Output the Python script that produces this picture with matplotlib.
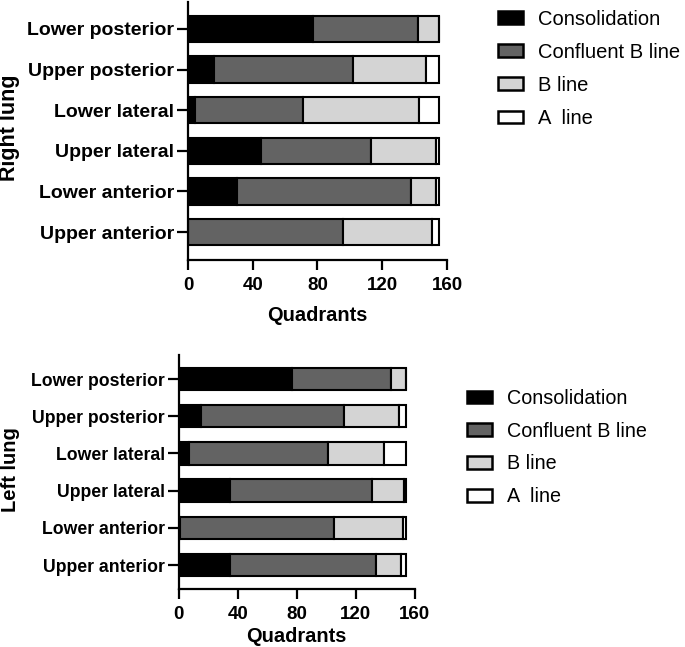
import numpy as np
import matplotlib
matplotlib.use("Agg")
import matplotlib.pyplot as plt
from matplotlib.patches import Patch

plt.rcParams['font.family'] = ['Liberation Sans', 'DejaVu Sans']

# regions, bottom to top
regions = ["Upper anterior", "Lower anterior", "Upper lateral",
           "Lower lateral", "Upper posterior", "Lower posterior"]
series = ["Consolidation", "Confluent B line", "B line", "A  line"]
colors = ["#000000", "#636363", "#d4d4d4", "#ffffff"]

# right lung counts per region (same order as regions)
right_consol = [0, 30, 45, 4, 16, 77]
right_confl = [96, 108, 68, 67, 86, 65]
right_bline = [55, 15, 40, 72, 45, 13]
right_aline = [4, 2, 2, 12, 8, 0]

# left lung counts
left_consol = [35, 1, 35, 7, 15, 77]
left_confl = [99, 104, 96, 94, 97, 67]
left_bline = [17, 47, 22, 38, 37, 10]
left_aline = [3, 2, 1, 15, 5, 0]

xticks = [0, 40, 80, 120, 160]

fig = plt.figure(figsize=(6.85, 6.47), dpi=100)
ax1 = fig.add_axes([0.2745, 0.598, 0.378, 0.399])
ax2 = fig.add_axes([0.261, 0.0896, 0.3445, 0.3617])


def draw(ax, data, height, fs, lpad):
    y = np.arange(len(regions))
    left = np.zeros(len(regions))
    for vals, c, name in zip(data, colors, series):
        ax.barh(y, vals, left=left, height=height, color=c,
                edgecolor="black", linewidth=1.5, label=name)
        left = left + np.array(vals)
    ax.set_yticks(y)
    ax.set_yticklabels(regions, fontsize=fs, fontweight="bold")
    ax.set_xlim(0, 160)
    ax.set_xticks(xticks)
    ax.set_xticklabels([str(t) for t in xticks], fontsize=13.5, fontweight="bold")
    ax.set_xlabel("Quadrants", fontsize=14.4, fontweight="bold", labelpad=lpad)
    ax.spines["top"].set_visible(False)
    ax.spines["right"].set_visible(False)
    ax.spines["left"].set_linewidth(1.6)
    ax.spines["bottom"].set_linewidth(1.6)
    ax.tick_params(axis="x", width=1.6, length=7, pad=5)
    ax.tick_params(axis="y", width=1.6, length=8, pad=2)


draw(ax1, [right_consol, right_confl, right_bline, right_aline], 0.65, 14, 9)
ax1.set_ylim(-0.69, 5.665)
draw(ax2, [left_consol, left_confl, left_bline, left_aline], 0.6, 12.7, 3)
ax2.set_ylim(-0.645, 5.645)

fig.text(10 / 685, 1 - 128 / 647, "Right lung", rotation=90, fontsize=15.5,
         fontweight="bold", ha="center", va="center")
fig.text(10 / 685, 1 - 470 / 647, "Left lung", rotation=90, fontsize=14.5,
         fontweight="bold", ha="center", va="center")

# legends
handles = [Patch(facecolor=c, edgecolor="black", linewidth=1.8) for c in colors]
fig.legend(handles, series, loc="upper left", bbox_to_anchor=(0.727, 0.985),
           frameon=False, fontsize=14.5, handlelength=1.25, handleheight=0.6,
           handletextpad=0.75, labelspacing=0.7, borderpad=0, borderaxespad=0)
fig.legend(handles, series, loc="upper left", bbox_to_anchor=(0.682, 0.399),
           frameon=False, fontsize=14.2, handlelength=1.25, handleheight=0.6,
           handletextpad=0.75, labelspacing=0.7, borderpad=0, borderaxespad=0)

plt.savefig("out.png", dpi=100)
